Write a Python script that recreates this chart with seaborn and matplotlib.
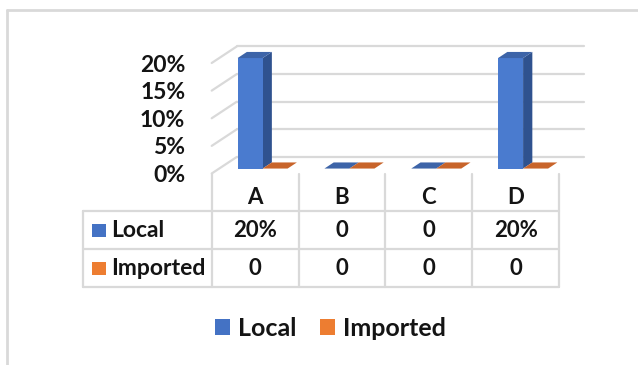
import numpy as np
import pandas as pd
import matplotlib
matplotlib.use("Agg")
import matplotlib.pyplot as plt
import matplotlib.transforms as mtransforms
from matplotlib.lines import Line2D
from matplotlib.patches import Polygon, Rectangle, Patch
import seaborn as sns

# data
categories = ['A', 'B', 'C', 'D']
series = ['Local', 'Imported']
local_vals = [0.20, 0.0, 0.0, 0.20]
imported_vals = [0.0, 0.0, 0.0, 0.0]
y_ticks = [0.0, 0.05, 0.10, 0.15, 0.20]

front_cols = {'Local': '#4a7bcf', 'Imported': '#ed7d31'}
side_cols = {'Local': '#2f528f', 'Imported': '#b85c1f'}
top_cols = {'Local': '#3d64a8', 'Imported': '#c8642a'}
legend_cols = {'Local': '#4472c4', 'Imported': '#ed7d31'}
grid_col = '#d9d9d9'
txt_col = '#141414'

df = pd.DataFrame({
    'category': categories * 2,
    'series': ['Local'] * 4 + ['Imported'] * 4,
    'share': local_vals + imported_vals,
})

sns.set_theme(style='white')
plt.rcParams['font.family'] = ['Lato', 'DejaVu Sans']
plt.rcParams['font.weight'] = 'bold'

W, H = 638, 365
fig = plt.figure(figsize=(W / 100, H / 100), dpi=100)


def fx(px):
    return px / W


def fy(py):
    return 1 - py / H


# front plane of the 3d box
ax_l, ax_r, ax_top, ax_bot = 211.7, 559.0, 63.0, 173.5
ax = fig.add_axes([fx(ax_l), fy(ax_bot), (ax_r - ax_l) / W, (ax_bot - ax_top) / H])

sns.barplot(data=df, x='category', y='share', hue='series', palette=front_cols,
            dodge=True, width=0.576, saturation=1, linewidth=0, legend=False, ax=ax)
ax.set_xlim(-0.5, 3.5)
ax.set_ylim(0, 0.2)

# depth of the box in data units
ppx_x = (ax_r - ax_l) / 4.0
ppx_y = (ax_bot - ax_top) / 0.2
ddx = 25.0 / ppx_x
ddy = 16.5 / ppx_y

# back wall gridlines + left side diagonals
for t in y_ticks:
    ax.plot([-0.5 + ddx, 3.5 + ddx], [t + ddy, t + ddy], color=grid_col, lw=1.6,
            clip_on=False, zorder=0)
    ax.plot([-0.5, -0.5 + ddx], [t, t + ddy], color=grid_col, lw=1.6,
            clip_on=False, zorder=0)

# 3d bars: shift front face back, add side and top faces
f0, fd = 0.30, 0.37
for cont, name in zip(ax.containers, series):
    for bar in cont:
        x0, w, h = bar.get_x(), bar.get_width(), bar.get_height()
        xs, ys = x0 + f0 * ddx, f0 * ddy
        bar.set_x(xs)
        bar.set_y(ys)
        bar.set_clip_on(False)
        bar.set_zorder(3)
        bx, by = fd * ddx, fd * ddy
        if h > 0:
            side = Polygon([(xs + w, ys), (xs + w + bx, ys + by), (xs + w + bx, ys + h + by),
                            (xs + w, ys + h)], closed=True, facecolor=side_cols[name],
                           edgecolor='none', clip_on=False, zorder=2)
            ax.add_patch(side)
        top = Polygon([(xs, ys + h), (xs + w, ys + h), (xs + w + bx, ys + h + by),
                       (xs + bx, ys + h + by)], closed=True, facecolor=top_cols[name],
                      edgecolor='none', clip_on=False, zorder=4)
        ax.add_patch(top)

ax.set_yticks(y_ticks)
ax.set_yticklabels(['{:.0%}'.format(t) for t in y_ticks], fontsize=16.5,
                   fontweight='bold', color=txt_col)
ax.set_xticks(range(len(categories)))
ax.set_xticklabels(categories, fontsize=16, fontweight='bold', color=txt_col)
ax.tick_params(axis='y', length=0, pad=19)
ax.tick_params(axis='x', length=0, pad=10)
ax.set_xlabel('')
ax.set_ylabel('')
for s in ax.spines.values():
    s.set_visible(False)
ax.patch.set_alpha(0)

# data table
blend = mtransforms.blended_transform_factory(ax.transData, fig.transFigure)
tbl_left = 82.7
row_y = [211.0, 249.3, 287.0]
for xb in np.arange(-0.5, len(categories), 1.0):
    fig.add_artist(Line2D([xb, xb], [fy(ax_bot), fy(row_y[-1])], transform=blend,
                          color=grid_col, lw=1.6))
fig.add_artist(Line2D([fx(tbl_left), fx(tbl_left)], [fy(row_y[0]), fy(row_y[-1])],
                      color=grid_col, lw=1.6))
for yb in row_y:
    fig.add_artist(Line2D([fx(tbl_left), fx(ax_r)], [fy(yb), fy(yb)],
                          color=grid_col, lw=1.6))


def fmt(v):
    return '0' if v == 0 else '{:.0%}'.format(v)


for r, (name, vals) in enumerate(zip(series, [local_vals, imported_vals])):
    yc = (row_y[r] + row_y[r + 1]) / 2 + 0.5
    fig.add_artist(Rectangle((fx(92), fy(yc + 6.5)), 13.5 / W, 13.5 / H,
                             facecolor=legend_cols[name], edgecolor='none',
                             transform=fig.transFigure))
    fig.text(fx(111), fy(yc), name, ha='left', va='center', fontsize=16.5,
             fontweight='bold', color=txt_col)
    for i, v in enumerate(vals):
        fig.text(i, fy(yc), fmt(v), transform=blend, ha='center', va='center',
                 fontsize=16, fontweight='bold', color=txt_col)

# legend
handles = [Patch(facecolor=legend_cols[s], edgecolor='none') for s in series]
fig.legend(handles, series, loc='center', bbox_to_anchor=(fx(330.5), fy(328)),
           ncol=2, frameon=False, handlelength=0.6, handleheight=0.6,
           handletextpad=0.3, columnspacing=0.95,
           prop={'size': 18, 'weight': 'bold'}, labelcolor=txt_col)

# chart border
fig.add_artist(Line2D([fx(7), fx(7)], [fy(10), 0], color=grid_col, lw=2))
fig.add_artist(Line2D([fx(7), 1], [fy(10), fy(10)], color=grid_col, lw=2))

fig.savefig('out.png', dpi=100)
